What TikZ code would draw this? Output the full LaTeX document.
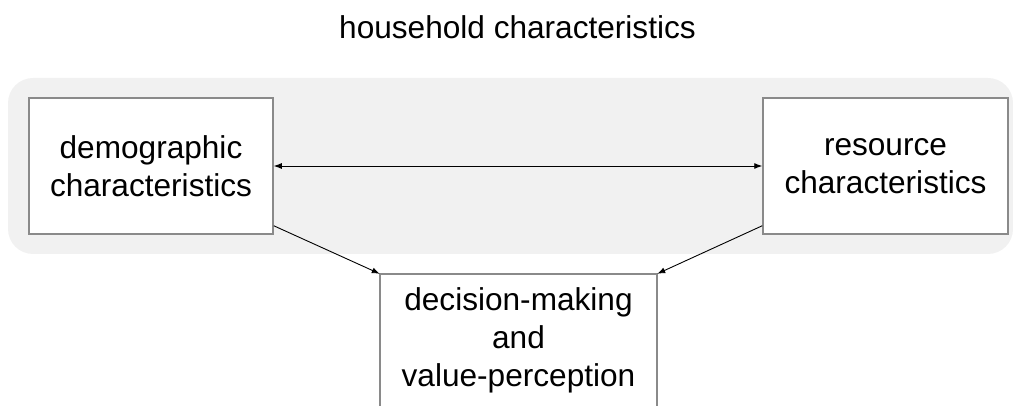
\documentclass[tikz,border=0pt]{standalone}
\usepackage{fontspec}
\setmainfont{Liberation Sans}
\usetikzlibrary{arrows.meta,calc}
\definecolor{boxgray}{HTML}{8A8A8A}
\definecolor{groupfill}{HTML}{F1F1F1}
\begin{document}
\begin{tikzpicture}[x=1pt,y=-1pt,
  txt/.style={font=\fontsize{31.6}{38}\selectfont,align=center,inner sep=0pt},
  box/.style={txt,draw=boxgray,line width=1.5pt,fill=white},
  boxline/.style={draw=boxgray,line width=1.5pt},
  link/.style={line width=0.9pt,-{Latex[length=8pt,width=6pt]}},
  biglink/.style={line width=0.9pt,{Latex[length=8pt,width=6pt]}-{Latex[length=8pt,width=6pt]}},
]
\useasboundingbox (0,0) rectangle (1013,406);
\clip (0,0) rectangle (1013,406);

% shaded group of household characteristics
\fill[groupfill,rounded corners=25pt] (8,78) rectangle (1013,254);

\node[txt] (title) at (517.5,27) {household characteristics};

\node[box,minimum width=244pt,minimum height=136pt] (demo) at (151,166)
  {demographic\\characteristics};
\node[box,minimum width=245pt,minimum height=136pt] (res) at (885.5,166)
  {resource\\characteristics};

% open-bottomed box running past the lower edge
\node[txt,fill=white,minimum width=277pt,minimum height=132pt] (dec) at (518.5,340)
  {decision-making\\and\\value-perception};
\draw[boxline] ($(dec.south west)+(0,30)$) -- (dec.north west) -- (dec.north east)
  -- ($(dec.south east)+(0,30)$);

\draw[biglink] (demo) -- (res);
\draw[link] ($(demo.south east)+(0,-9)$) -- (dec.north west);
\draw[link] ($(res.south west)+(0,-9)$) -- (dec.north east);
\end{tikzpicture}
\end{document}
